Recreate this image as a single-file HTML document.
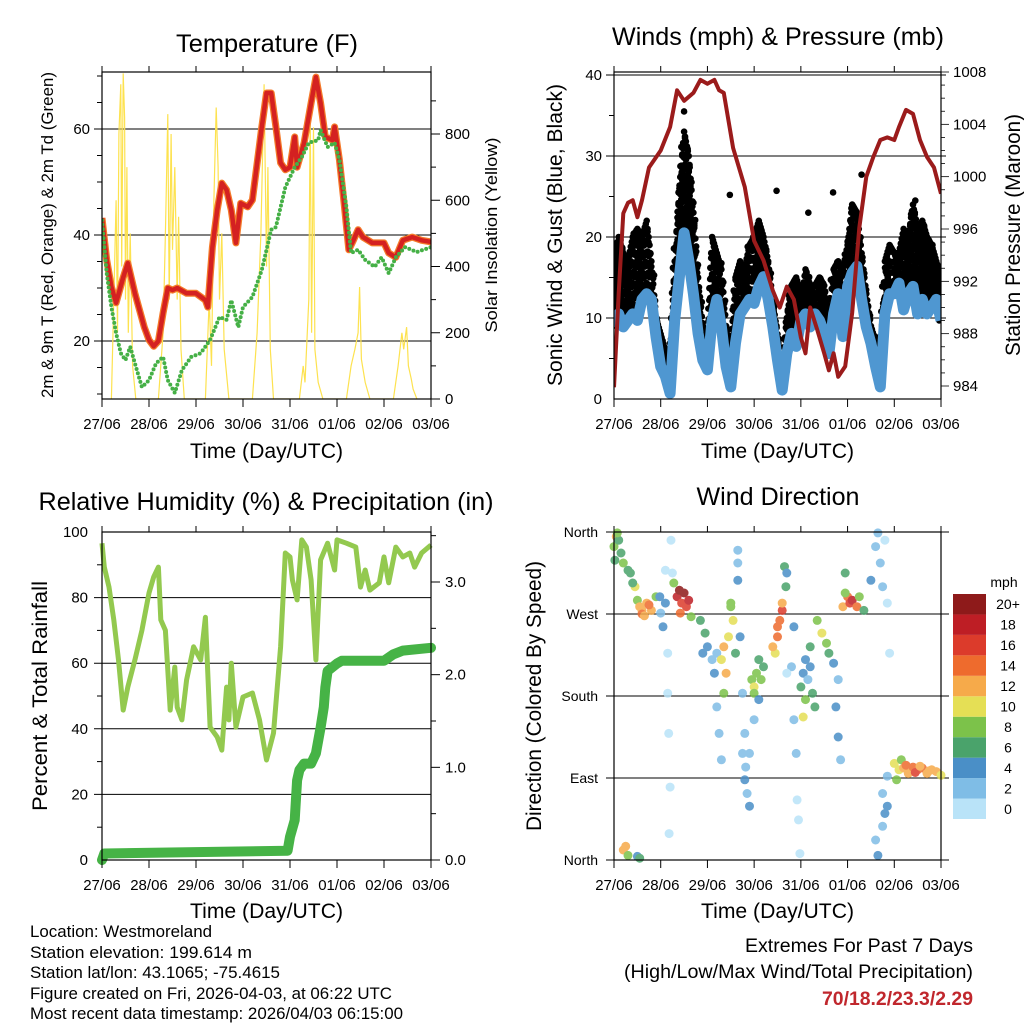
<!DOCTYPE html>
<html><head><meta charset="utf-8">
<style>
html,body{margin:0;padding:0;background:#fff;}
svg{display:block;font-family:"Liberation Sans",sans-serif;}
</style></head>
<body>
<svg id="c" width="1024" height="1024" viewBox="0 0 1024 1024" xmlns="http://www.w3.org/2000/svg">
<rect width="1024" height="1024" fill="#fff"/>
<g id="g"></g>
<g font-size="17" fill="#000">
<text x="30" y="937" textLength="182" lengthAdjust="spacingAndGlyphs">Location: Westmoreland</text>
<text x="30" y="958" textLength="222" lengthAdjust="spacingAndGlyphs">Station elevation: 199.614 m</text>
<text x="30" y="978" textLength="250" lengthAdjust="spacingAndGlyphs">Station lat/lon: 43.1065; -75.4615</text>
<text x="30" y="999" textLength="362" lengthAdjust="spacingAndGlyphs">Figure created on Fri, 2026-04-03, at 06:22 UTC</text>
<text x="30" y="1019" textLength="373" lengthAdjust="spacingAndGlyphs">Most recent data timestamp: 2026/04/03 06:15:00</text>
</g>
<g text-anchor="end">
<text x="973" y="952" font-size="19" textLength="228" lengthAdjust="spacingAndGlyphs">Extremes For Past 7 Days</text>
<text x="973" y="978" font-size="19" textLength="349" lengthAdjust="spacingAndGlyphs">(High/Low/Max Wind/Total Precipitation)</text>
<text x="973" y="1005" font-size="19" font-weight="bold" fill="#c0272d" textLength="151" lengthAdjust="spacingAndGlyphs">70/18.2/23.3/2.29</text>
</g>
</svg>
<script>
// ---------- data ----------
const dayLabels=["27/06","28/06","29/06","30/06","31/06","01/06","02/06","03/06"];
const tempT=[0,0.1,0.2,0.3,0.45,0.55,0.7,0.9,1.0,1.1,1.2,1.3,1.4,1.5,1.6,1.8,2.0,2.2,2.25,2.35,2.45,2.55,2.65,2.75,2.85,2.95,3.1,3.2,3.4,3.5,3.6,3.7,3.8,3.9,4.0,4.1,4.15,4.3,4.45,4.55,4.65,4.75,4.9,4.95,5.05,5.15,5.25,5.35,5.45,5.55,5.75,6.0,6.1,6.25,6.4,6.6,6.8,7.0];
const tempV=[43.2,35.3,30.2,27.2,32,34.7,29,22.6,20.2,19,20,25.3,30,29.6,30,29,29,27.7,26.4,37.7,44.7,49.8,48.5,44.7,38.5,46,45.3,46.6,60.4,66.8,66.8,60.4,53.6,52.3,52.8,58.5,52.8,57.4,64.9,69.8,64.9,58.5,57.9,60.4,54.2,46,37.2,39,41,39.6,38.5,38.5,36.6,35.8,39,39.6,39,38.7];
const dewT=[0,0.1,0.2,0.3,0.4,0.5,0.6,0.7,0.85,1.0,1.15,1.3,1.4,1.55,1.7,1.9,2.1,2.3,2.5,2.65,2.75,2.9,3.0,3.2,3.4,3.6,3.7,3.9,4.1,4.25,4.4,4.6,4.65,4.8,4.95,5.05,5.2,5.3,5.45,5.6,5.8,5.95,6.1,6.25,6.45,6.7,7.0];
const dewV=[42.8,32.8,26.4,21.5,17.7,16.4,18.9,15.8,11.3,12.6,15.8,17,12.6,10.2,14.5,17,17.7,20.2,24.5,24,27.7,22.6,26.4,28.3,33.4,41,41.5,49,52.8,54.7,57.4,57.9,59.8,56.6,57.4,54.2,45.3,36.6,37.2,35.3,34,35.8,32.8,35.8,37.7,36.8,37.7];
const solarT=[0.2,0.25,0.3,0.33,0.36,0.4,0.42,0.45,0.48,0.5,0.53,0.56,0.6,0.65,0.72,1.2,1.3,1.35,1.4,1.43,1.47,1.5,1.55,1.6,1.63,1.68,1.75,2.2,2.28,2.33,2.38,2.43,2.47,2.5,2.55,2.6,2.7,3.2,3.3,3.38,3.45,3.5,3.53,3.58,3.65,4.2,4.28,4.32,4.4,4.43,4.46,4.5,4.53,4.6,4.7,5.2,5.3,5.38,5.45,5.48,5.52,5.6,5.7,6.2,6.3,6.38,6.42,6.48,6.52,6.58,6.62,6.7];
const solarV=[0,300,600,200,800,950,400,983,850,300,700,200,500,100,0,0,200,500,860,300,800,450,700,300,550,150,0,0,300,100,600,880,700,300,500,150,0,0,200,500,950,400,700,150,0,0,100,50,300,870,200,820,150,50,0,0,100,150,200,338,120,50,0,0,100,200,150,217,100,60,30,0];
const presT=[0,0.1,0.2,0.3,0.4,0.5,0.6,0.75,1.0,1.2,1.35,1.5,1.7,1.85,2.0,2.15,2.25,2.35,2.55,2.8,3.0,3.2,3.4,3.55,3.7,3.85,4.0,4.1,4.2,4.35,4.5,4.6,4.7,4.8,4.95,5.1,5.25,5.4,5.55,5.7,5.85,6.0,6.1,6.25,6.4,6.55,6.7,6.85,7.0];
const presV=[983.9,991.1,997.2,998,998.2,996.9,998.2,1000.7,1002,1003.8,1006.6,1005.8,1006.4,1007.4,1007.1,1007.4,1006.6,1006.4,1002.2,999.2,995.1,993.6,991.3,990,991.6,990.6,987.7,986.5,990,988.3,986.5,985.2,986.5,984.7,985.5,989.6,996.1,1000,1001.5,1002.8,1003,1002.8,1003.8,1005.1,1004.8,1002.8,1001.5,1000.7,998.7];
const windV=[8.9,10.5,8.9,9.7,10.5,9.7,12.3,13,12.3,7.7,4,2.8,0.7,9.7,15.1,20.5,17.2,13,8.1,4.8,3.6,9.7,12.3,8.9,4,1.5,6.9,10.5,11.4,12.3,11.8,13.9,15.1,12.3,8.9,4.8,1.1,5.6,8.1,6.5,9.7,10.5,8.9,10.5,9.7,8.1,5.6,10.5,13,7.7,13.9,15.6,16.4,12.3,8.9,6.9,4,1.5,10.5,13,13,14.3,11,13,13.9,10.5,12.3,10.5,11.4,12.3,9.7];
const gustV=[17,20,18,17,20,21,20,22,17,10,8,6,5,17,26,33,30,23,15,9,7,20,18,16,9,6,15,17,16,19,20,22,20,17,12,8,4,10,14,15,12,16,14,14,15,14,10,16,17,16,19,24,23,18,13,9,7,4,17,19,18,18,21,20,24,21,22,20,19,17,15];
const gustOutT=[1.5,1.55,2.48,3.48,4.16,4.69,5.3,1.45,6.45];
const gustOutV=[35.5,30,25.2,25.7,23,25.5,27.7,28,24.5];
const rhT=[0,0.05,0.15,0.25,0.35,0.45,0.55,0.7,0.85,1.0,1.1,1.2,1.25,1.35,1.45,1.55,1.6,1.7,1.8,1.95,2.1,2.2,2.3,2.45,2.55,2.65,2.7,2.75,2.85,3.0,3.2,3.35,3.5,3.65,3.8,3.9,4.0,4.05,4.15,4.25,4.35,4.45,4.55,4.65,4.8,4.95,5.0,5.2,5.4,5.5,5.6,5.7,5.9,6.0,6.1,6.25,6.4,6.55,6.65,6.8,7.0];
const rhV=[96.6,89.3,83.2,73.2,61,45.7,52.7,61,70,81.4,86.3,89.3,73.2,70,45.7,58.8,46.6,42.7,54.9,65,61,74,40.5,37.5,33.5,52.7,42.7,60,40.5,49.7,50.9,42.7,30.5,38.7,65,93.6,92.4,85.4,79.3,97.6,95.4,85.4,61,91.5,96.6,88.4,97.6,96.6,95.4,83.2,88.4,82.3,84.5,92.4,84.5,95.4,92.4,93.6,89.3,93.6,96];
const prT=[0,0.05,3.95,4.0,4.1,4.15,4.2,4.3,4.45,4.55,4.65,4.72,4.75,4.8,5.0,5.1,6.0,6.2,6.4,7.0];
const prV=[0,0.07,0.1,0.25,0.43,0.86,0.97,1.04,1.04,1.15,1.43,1.65,1.86,2.04,2.12,2.15,2.15,2.22,2.26,2.29];
const dirT=[0,0.02,0.05,0.1,0.15,0.2,0.35,0.45,0.5,0.55,0.6,0.7,0.8,0.9,0.07,0.3,0.4,0.98,1.0,1.05,1.1,1.1,1.15,1.15,1.17,1.2,1.18,1.22,1.35,1.4,1.45,1.5,1.55,1.6,1.42,1.28,1.65,1.85,1.95,2.0,2.1,2.15,2.2,2.2,2.25,2.3,1.9,2.3,2.35,2.4,2.45,2.5,2.55,2.6,2.35,2.5,2.65,2.65,2.65,2.7,2.75,2.8,2.75,2.8,2.85,2.82,2.9,2.9,2.95,3.0,3.05,3.1,3.2,3.0,3.15,3.1,3.45,3.5,3.55,3.6,3.5,3.4,3.6,3.65,3.68,3.7,3.8,3.85,3.9,3.92,3.95,3.98,3.85,3.7,4.0,4.05,4.1,4.15,4.2,4.25,4.3,4.1,4.2,4.05,4.35,4.45,4.55,4.6,4.7,4.8,4.75,4.8,4.85,4.9,5.0,5.05,5.1,5.2,5.25,5.35,4.95,4.95,5.6,5.65,5.7,5.75,5.8,5.85,5.9,5.5,5.75,5.8,5.75,5.6,5.65,5.85,5.85,6.0,6.1,6.2,6.3,6.4,6.5,6.6,6.7,6.8,6.9,7.0,6.05,6.15,6.25,6.45,6.55,6.75,0.2,0.25,0.3,0.5,0.55,1.25,3.0,0.6,0.75,0.65];
const dirV=[344,329,355,351,337,326,315,300,285,278,274,282,274,289,359,318,304,289,271,256,282,318,227,183,139,80,29,351,289,296,282,293,278,285,271,304,267,263,249,234,220,205,227,168,139,110,227,220,183,205,245,278,263,227,234,282,340,326,307,245,183,139,117,88,73,102,59,117,198,190,205,220,212,183,198,176,227,245,263,274,256,234,282,322,300,315,212,154,117,66,44,7,256,205,190,205,220,198,212,183,168,176,234,157,263,249,238,227,216,198,168,135,110,278,289,282,285,278,289,274,293,315,344,359,326,300,351,282,227,307,73,51,37,22,5,59,92,106,99,101,95,102,99,101,95,99,97,93,88,110,104,96,103,98,11,15,5,4,2,315,154,270,280,268];
const dirS=[8,7,12,7,7,8,7,10,9,12,13,13,12,9,8,7,7,4,3,4,5,1,1,1,1,1,1,0,18,20,17,20,16,18,14,8,9,7,7,5,3,4,2,2,3,2,4,10,8,12,11,9,10,6,12,8,3,3,4,4,3,2,2,4,3,2,4,3,8,10,9,7,6,9,8,4,10,14,15,17,14,12,12,6,6,5,2,3,2,1,0,0,4,1,6,4,5,3,4,6,7,8,7,10,8,10,8,6,4,3,4,4,2,12,14,16,18,14,8,7,8,6,3,3,2,2,1,1,1,4,3,4,2,3,4,4,3,10,11,12,13,14,14,14,12,13,12,11,8,9,15,16,13,12,12,12,9,5,6,1,2,15,14,13];
const speedBins=["0","2","4","6","8","10","12","14","16","18","20+"];
const binColors=["#b9e3f8","#7fbde6","#4a8fc7","#4aa36b","#7cc24a","#e5df55","#f6aa4a","#ee6b2d","#dc3b2b","#be1e25","#8e1a1a"];

// ---------- helpers ----------
const NS="http://www.w3.org/2000/svg";
const root=document.getElementById('g');
function mk(tag,attrs,parent,text){const e=document.createElementNS(NS,tag);for(const k in attrs)e.setAttribute(k,attrs[k]);if(text!==undefined)e.textContent=text;(parent||root).appendChild(e);return e;}
function lin(d0,d1,r0,r1){return v=>r0+(v-d0)*(r1-r0)/(d1-d0);}
function path(xs,ys,fx,fy){return xs.map((t,i)=>(i?'L':'M')+fx(t).toFixed(1)+','+fy(ys[i]).toFixed(1)).join('');}

function frame(p,name){
  const g=mk('g',{});
  
  
  return g;
}
function xAxis(g,L,R,B,T,labelY){
  const fx=lin(0,7,L,R);
  dayLabels.forEach((d,i)=>{
    const x=fx(i);
    mk('line',{x1:x,y1:B,x2:x,y2:B+8,stroke:'#000','stroke-width':1},g);
    mk('line',{x1:x,y1:T,x2:x,y2:T-6,stroke:'#000','stroke-width':1},g);
    const t=mk('text',{x:x,y:B+30,'font-size':15,'text-anchor':'middle'},g,d);
    
    
  });
  const tt=mk('text',{x:(L+R)/2,y:labelY,'font-size':21,'text-anchor':'middle',textLength:153,lengthAdjust:'spacingAndGlyphs'},g,'Time (Day/UTC)');
  
  
  return fx;
}
function box(g,L,R,T,B){mk('rect',{x:L,y:T,width:R-L,height:B-T,fill:'none',stroke:'#000','stroke-width':1.2},g);}
function vtitle(g,x,y,txt,size,len,name){
  const t=mk('text',{x:x,y:y,'font-size':size,'text-anchor':'middle',textLength:len,lengthAdjust:'spacingAndGlyphs',transform:`rotate(-90 ${x} ${y})`},g,txt);
  
  
}
function title(g,x,y,txt,len){
  const t=mk('text',{x:x,y:y,'font-size':25,'text-anchor':'middle',textLength:len,lengthAdjust:'spacingAndGlyphs'},g,txt);
  
  
}

// ---------- Panel 1: Temperature ----------
(function(){
  const L=102,R=431,T=72,B=399;
  const g=frame(0,'temperature-panel');
  const fy=lin(20,60,341,129);
  const fs=lin(0,800,399,134);
  const cp=mk('clipPath',{id:'cp1'},g);mk('rect',{x:L,y:T,width:R-L,height:B-T},cp);
  [20,40,60].forEach(v=>{mk('line',{x1:L-8,x2:R,y1:fy(v),y2:fy(v),stroke:'#000','stroke-width':1},g);
    mk('text',{x:L-12,y:fy(v)+5,'font-size':15,'text-anchor':'end'},g,v);});
  for(let v=10;v<=70;v+=5){if(v%20)mk('line',{x1:L-5,x2:L,y1:fy(v),y2:fy(v),stroke:'#000'},g);}
  for(let v=0;v<=950;v+=100){const y=fs(v);mk('line',{x1:R,x2:R+(v%200?5:9),y1:y,y2:y,stroke:'#000'},g);
    if(v%200===0)mk('text',{x:R+14,y:y+5,'font-size':15},g,v);}
  const pc=mk('g',{'clip-path':'url(#cp1)'},g);
  const fx=lin(0,7,L,R);
  const s=mk('path',{d:path(solarT,solarV,fx,fs),fill:'none',stroke:'#fde24f','stroke-width':1.2},pc);
  
  
  const o=mk('path',{d:path(tempT,tempV,fx,fy),fill:'none',stroke:'#f47a2a','stroke-width':7,'stroke-linejoin':'round'},pc);
  
  
  const r=mk('path',{d:path(tempT,tempV,fx,fy),fill:'none',stroke:'#d42121','stroke-width':4.5,'stroke-linejoin':'round'},pc);
  
  
  const d=mk('path',{d:path(dewT,dewV,fx,fy),fill:'none',stroke:'#45b046','stroke-width':4,'stroke-linecap':'round','stroke-dasharray':'0 4.5'},pc);
  
  
  box(g,L,R,T,B);
  xAxis(g,L,R,B,T,458);
  title(g,267,52,'Temperature (F)',182);
  vtitle(g,53,235,'2m & 9m T (Red, Orange) & 2m Td (Green)',17,326,'y-axis-title-left');
  vtitle(g,497,235,'Solar Insolation (Yellow)',17,195,'y-axis-title-right');
})();

// ---------- Panel 2: Winds ----------
(function(){
  const L=614,R=941,T=72,B=399;
  const g=frame(0,'winds-panel');
  const fy=lin(0,40,399,75);
  const fp=lin(984,1008,386,72);
  const fx=lin(0,7,L,R);
  const cp=mk('clipPath',{id:'cp2'},g);mk('rect',{x:L,y:T-2,width:R-L,height:B-T+4},cp);
  [0,10,20,30,40].forEach(v=>{mk('line',{x1:L-8,x2:R+5,y1:fy(v),y2:fy(v),stroke:'#000','stroke-width':v?1:0},g);
    mk('text',{x:L-12,y:fy(v)+5,'font-size':15,'text-anchor':'end'},g,v);});
  for(let v=5;v<40;v+=10)mk('line',{x1:L-5,x2:L,y1:fy(v),y2:fy(v),stroke:'#000'},g);
  for(let v=984;v<=1008;v+=1){const y=fp(v);if(y<T-1)continue;mk('line',{x1:R,x2:R+(v%4?4:8),y1:y,y2:y,stroke:'#000','stroke-width':0.8},g);
    if(v%4===0)mk('text',{x:R+12,y:y+5,'font-size':15},g,v);}
  const pc=mk('g',{'clip-path':'url(#cp2)'},g);
  const wT=windV.map((v,i)=>i/10);
  const dots=mk('g',{fill:'#000'},pc);
  
  
  for(let i=0;i<gustV.length;i++){
    const j=Math.min(i+1,gustV.length-1);
    for(let k=0;k<5;k++){
      const tt=(i+k/5)/10; if(tt>7)break;
      const h=gustV[i]+(gustV[j]-gustV[i])*k/5, l=windV[i]+(windV[j]-windV[i])*k/5;
      let c=0;
      for(let v=l;v<=h;v+=1.3){
        const jx=((c*7+k*3)%5-2)*0.9;
        mk('circle',{cx:(fx(tt)+jx).toFixed(1),cy:fy(v).toFixed(1),r:3.3},dots);c++;
      }
      mk('circle',{cx:fx(tt).toFixed(1),cy:fy(h).toFixed(1),r:3.3},dots);
    }
  }
  gustOutT.forEach((t,i)=>mk('circle',{cx:fx(t),cy:fy(gustOutV[i]),r:3.3},dots));
  const w=mk('path',{d:path(wT,windV,fx,fy),fill:'none',stroke:'#4f97d1','stroke-width':11,'stroke-linejoin':'round'},pc);
  
  
  const p=mk('path',{d:path(presT,presV,fx,fp),fill:'none',stroke:'#9b1b1b','stroke-width':4,'stroke-linejoin':'round'},pc);
  
  
  box(g,L,R,T,B);
  xAxis(g,L,R,B,T,458);
  title(g,778,45,'Winds (mph) & Pressure (mb)',332);
  vtitle(g,562,235,'Sonic Wind & Gust (Blue, Black)',21,302,'y-axis-title-left');
  vtitle(g,1020,235,'Station Pressure (Maroon)',21,242,'y-axis-title-right');
})();

// ---------- Panel 3: RH & Precip ----------
(function(){
  const L=102,R=431,T=532,B=860;
  const g=frame(0,'humidity-precip-panel');
  const fy=lin(0,100,860,532);
  const fr=lin(0,3,860,582);
  const fx=lin(0,7,L,R);
  const cp=mk('clipPath',{id:'cp3'},g);mk('rect',{x:L-6,y:T,width:R-L+12,height:B-T+6},cp);
  [0,20,40,60,80,100].forEach(v=>{mk('line',{x1:L-8,x2:R,y1:fy(v),y2:fy(v),stroke:'#000','stroke-width':(v%100)?1:0},g);
    mk('text',{x:L-14,y:fy(v)+5,'font-size':15,'text-anchor':'end'},g,v);});
  for(let v=10;v<100;v+=20)mk('line',{x1:L-5,x2:L,y1:fy(v),y2:fy(v),stroke:'#000'},g);
  for(let v=0;v<=3.5;v+=0.5){const y=fr(v);mk('line',{x1:R,x2:R+(v%1?5:9),y1:y,y2:y,stroke:'#000'},g);
    if(v%1===0)mk('text',{x:R+14,y:y+5,'font-size':15},g,v.toFixed(1));}
  const pc=mk('g',{'clip-path':'url(#cp3)'},g);
  const h=mk('path',{d:path(rhT,rhV,fx,fy),fill:'none',stroke:'#93c94f','stroke-width':5,'stroke-linejoin':'round'},pc);
  
  
  const pr=mk('path',{d:path(prT,prV,fx,fr),fill:'none',stroke:'#46b346','stroke-width':10,'stroke-linecap':'round','stroke-linejoin':'round'},pc);
  
  
  box(g,L,R,T,B);
  xAxis(g,L,R,B,T,918);
  title(g,266,510,'Relative Humidity (%) & Precipitation (in)',455);
  vtitle(g,47,696,'Percent & Total Rainfall',21,230,'y-axis-title');
})();

// ---------- Panel 4: Wind Direction ----------
(function(){
  const L=614,R=941,T=532,B=860;
  const g=frame(0,'wind-direction-panel');
  const fy=lin(0,360,860,532);
  const fx=lin(0,7,L,R);
  const names=["North","East","South","West","North"];
  [0,90,180,270,360].forEach((v,i)=>{mk('line',{x1:L-8,x2:R+8,y1:fy(v),y2:fy(v),stroke:'#000','stroke-width':1},g);
    mk('text',{x:L-16,y:fy(v)+5,'font-size':14,'text-anchor':'end'},g,names[i]);});
  const pc=mk('g',{opacity:0.85},g);
  
  
  dirT.forEach((t,i)=>{
    const b=Math.min(10,Math.floor(dirS[i]/2));
    mk('circle',{cx:fx(t).toFixed(1),cy:fy(dirV[i]).toFixed(1),r:4.5,fill:binColors[b]},pc);
  });
  box(g,L,R,T,B);
  xAxis(g,L,R,B,T,918);
  title(g,778,505,'Wind Direction',163);
  vtitle(g,541,696,'Direction (Colored By Speed)',21,270,'y-axis-title');
  const cb=mk('g',{},g);
  
  
  const top=594,bot=819,hh=(bot-top)/speedBins.length;
  speedBins.forEach((lab,i)=>{
    const y=bot-hh*(i+1);
    mk('rect',{x:953,y:y,width:33,height:hh,fill:binColors[i]},cb);
    mk('text',{x:1008,y:y+hh/2+5,'font-size':14,'text-anchor':'middle'},cb,lab);
  });
  mk('text',{x:1004,y:587,'font-size':14,'text-anchor':'middle'},cb,'mph');
})();
</script>
</body></html>
